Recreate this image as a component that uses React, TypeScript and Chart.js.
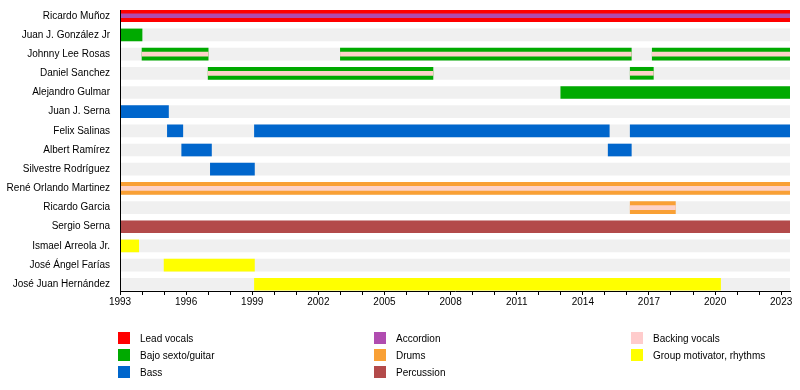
import React, { useEffect, useRef } from "react";
import { Chart, registerables } from "chart.js";

Chart.register(...registerables);

const START = 1993;
const END = 2023.4;

const members = [
  "Ricardo Muñoz",
  "Juan J. González Jr",
  "Johnny Lee Rosas",
  "Daniel Sanchez",
  "Alejandro Gulmar",
  "Juan J. Serna",
  "Felix Salinas",
  "Albert Ramírez",
  "Silvestre Rodríguez",
  "René Orlando Martinez",
  "Ricardo Garcia",
  "Sergio Serna",
  "Ismael Arreola Jr.",
  "José Ángel Farías",
  "José Juan Hernández",
];

// [rowIndex, start, end]
const leadVocals: [number, number, number][] = [[0, 1993, END]];
const accordion: [number, number, number][] = [[0, 1993, END]];
const bajoSexto: [number, number, number][] = [
  [1, 1993, 1994],
  [2, 1994, 1997],
  [2, 2003, 2016.2],
  [2, 2017.15, END],
  [3, 1997, 2007.2],
  [3, 2016.15, 2017.2],
  [4, 2013, END],
];
const backingVocals: [number, number, number][] = [
  [2, 1994, 1997],
  [2, 2003, 2016.2],
  [2, 2017.15, END],
  [3, 1997, 2007.2],
  [3, 2016.15, 2017.2],
  [9, 1993, END],
  [10, 2016.15, 2018.2],
];
const bass: [number, number, number][] = [
  [5, 1993, 1995.2],
  [6, 1995.15, 1995.85],
  [6, 1999.1, 2015.2],
  [6, 2016.15, END],
  [7, 1995.8, 1997.15],
  [7, 2015.15, 2016.2],
  [8, 1997.1, 1999.1],
];
const drums: [number, number, number][] = [
  [9, 1993, END],
  [10, 2016.15, 2018.2],
];
const percussion: [number, number, number][] = [[11, 1993, END]];
const groupMotivator: [number, number, number][] = [
  [12, 1993, 1993.85],
  [13, 1995, 1999.1],
  [14, 1999.1, 2020.25],
];

const COLORS = {
  lead: "#ff0000",
  bajo: "#00aa00",
  bass: "#0066cc",
  accordion: "#b04cb0",
  drums: "#f9a035",
  percussion: "#b34a4a",
  backing: "#fdd2c8",
  motivator: "#ffff00",
  bg: "#f0f0f0",
};

const legendItems = [
  { label: "Lead vocals", color: COLORS.lead, col: 0, row: 0 },
  { label: "Bajo sexto/guitar", color: COLORS.bajo, col: 0, row: 1 },
  { label: "Bass", color: COLORS.bass, col: 0, row: 2 },
  { label: "Accordion", color: COLORS.accordion, col: 1, row: 0 },
  { label: "Drums", color: COLORS.drums, col: 1, row: 1 },
  { label: "Percussion", color: COLORS.percussion, col: 1, row: 2 },
  { label: "Backing vocals", color: "#ffcccc", col: 2, row: 0 },
  { label: "Group motivator, rhythms", color: COLORS.motivator, col: 2, row: 1 },
];

const FONT = "'Liberation Sans', Arial, Helvetica, sans-serif";

function seg(list: [number, number, number][]) {
  return list.map(([r, s, e]) => ({ x: [s, e], y: r }));
}

export default function App() {
  const ref = useRef<HTMLCanvasElement | null>(null);

  useEffect(() => {
    if (!ref.current) return;
    Chart.defaults.font.family = FONT;
    Chart.defaults.font.size = 10;
    Chart.defaults.color = "#000";

    const mk = (label: string, data: any[], color: string, thick: number, order: number) => ({
      label,
      data,
      backgroundColor: color,
      borderWidth: 0,
      borderSkipped: false,
      barThickness: thick,
      grouped: false,
      order,
    });

    const chart = new Chart(ref.current, {
      type: "bar",
      data: {
        datasets: [
          mk("bg", members.map((_, i) => ({ x: [START, END], y: i })), COLORS.bg, 12, 10),
          mk("Lead vocals", seg(leadVocals), COLORS.lead, 12, 5),
          mk("Bajo sexto/guitar", seg(bajoSexto), COLORS.bajo, 12, 5),
          mk("Bass", seg(bass), COLORS.bass, 12, 5),
          mk("Drums", seg(drums), COLORS.drums, 12, 5),
          mk("Percussion", seg(percussion), COLORS.percussion, 12, 5),
          mk("Group motivator, rhythms", seg(groupMotivator), COLORS.motivator, 12, 5),
          mk("Accordion", seg(accordion), COLORS.accordion, 4, 1),
          mk("Backing vocals", seg(backingVocals), COLORS.backing, 4, 1),
        ] as any,
      },
      options: {
        indexAxis: "y",
        animation: false,
        responsive: false,
        layout: { padding: { top: 10, right: 10, left: 0, bottom: 0 } },
        plugins: { legend: { display: false }, tooltip: { enabled: false } },
        scales: {
          x: {
            type: "linear",
            min: START,
            max: END,
            afterBuildTicks: (s: any) => {
              const t = [];
              for (let v = 1993; v <= 2023; v++) t.push({ value: v });
              s.ticks = t;
            },
            afterFit: (s: any) => {
              s.height = 99;
              s.paddingLeft = 0;
              s.paddingRight = 0;
            },
            ticks: {
              autoSkip: false,
              maxRotation: 0,
              padding: 1,
              callback: (v: any) => ((Number(v) - 1993) % 3 === 0 ? String(v) : ""),
              color: "#000",
            },
            grid: {
              drawOnChartArea: false,
              drawTicks: true,
              tickLength: 4,
              tickColor: "#000",
            },
            border: { display: true, color: "#000", width: 1, z: 1 },
          },
          y: {
            type: "linear",
            reverse: true,
            offset: false,
            min: -0.3,
            max: 14.35,
            afterBuildTicks: (s: any) => {
              s.ticks = members.map((_, i) => ({ value: i }));
            },
            afterFit: (s: any) => {
              s.width = 120;
              s.paddingTop = 0;
              s.paddingBottom = 0;
            },
            ticks: {
              autoSkip: false,
              padding: 10,
              callback: (v: any) => members[Number(v)] ?? "",
              color: "#000",
            },
            grid: { display: false, drawTicks: false, tickLength: 0, offset: false },
            border: { display: true, color: "#000", width: 1, z: 1 },
          },
        },
      } as any,
    });
    return () => chart.destroy();
  }, []);

  const colX = [118, 374, 631];
  const rowY = [332, 349, 366];

  return (
    <div style={{ position: "absolute", left: 0, top: 0, width: 800, height: 390, background: "#fff", fontFamily: FONT }}>
      <canvas ref={ref} width={800} height={390} style={{ position: "absolute", left: 0, top: 0 }} />
      {legendItems.map((it) => (
        <React.Fragment key={it.label}>
          <div
            style={{
              position: "absolute",
              left: colX[it.col],
              top: rowY[it.row],
              width: 12,
              height: 12,
              background: it.color,
            }}
          />
          <div
            style={{
              position: "absolute",
              left: colX[it.col] + 22,
              top: rowY[it.row] + 1,
              height: 12,
              lineHeight: "12px",
              fontSize: 10,
              color: "#000",
              whiteSpace: "nowrap",
            }}
          >
            {it.label}
          </div>
        </React.Fragment>
      ))}
    </div>
  );
}
